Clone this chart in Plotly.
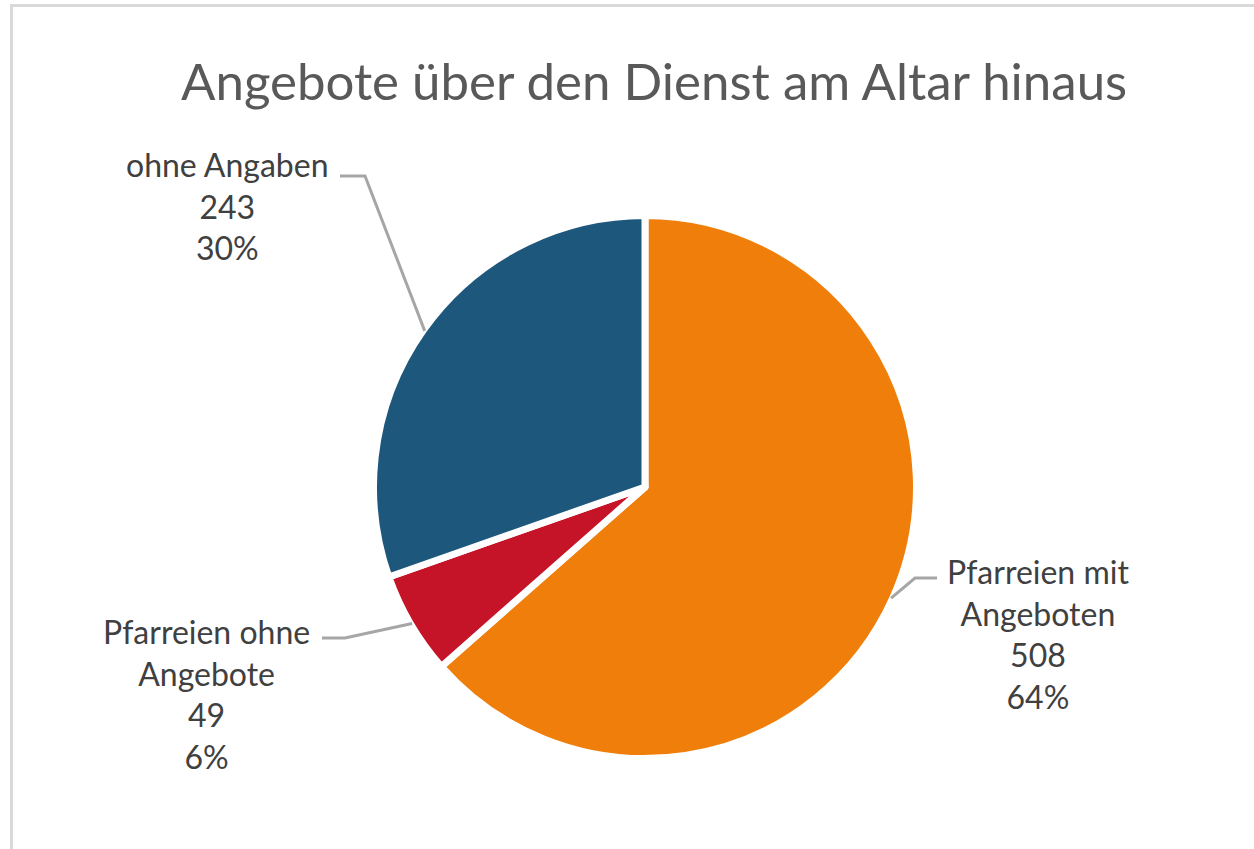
import math
import plotly.graph_objects as go

# ---- data ----
labels = ["Pfarreien mit Angeboten", "Pfarreien ohne Angebote", "ohne Angaben"]
label_lines = ["Pfarreien mit<br>Angeboten", "Pfarreien ohne<br>Angebote", "ohne Angaben"]
values = [508, 49, 243]
colors = ["#EF7F0A", "#C51428", "#1D587C"]
title_text = "Angebote über den Dienst am Altar hinaus"

# ---- layout constants (pixels) ----
W, H = 1254, 849
CX, CY, R = 645, 487, 268
BORDER = 7

def px(x):
    return x / W

def py(y):
    return 1 - y / H

Rd = R + BORDER / 2
fig = go.Figure(go.Pie(
    labels=labels, values=values, sort=False, direction="clockwise", rotation=0,
    marker=dict(colors=colors, line=dict(color="white", width=BORDER)),
    textinfo="none", hoverinfo="label+value+percent", showlegend=False,
    domain=dict(x=[px(CX - Rd), px(CX + Rd)], y=[py(CY + Rd), py(CY - Rd)]),
))

total = sum(values)
pcts = [round(v / total * 100) for v in values]

# label placement (pixels): center of text block, and leader bend/end points
label_pos = [(1038, 634), (206, 694), (227, 206)]
leader_end = [((937, 578), (915, 578)), ((322, 638), (345, 638)), ((340, 176), (365, 176))]

shapes = []
annotations = []
cum = 0
for i, v in enumerate(values):
    mid = (cum + v / 2) / total * 2 * math.pi
    cum += v
    ex = CX + (R + 2) * math.sin(mid)
    ey = CY - (R + 2) * math.cos(mid)
    (x0, y0), (x1, y1) = leader_end[i]
    path = f"M {px(x0)},{py(y0)} L {px(x1)},{py(y1)} L {px(ex)},{py(ey)}"
    shapes.append(dict(type="path", xref="paper", yref="paper", path=path,
                       line=dict(color="#A6A6A6", width=3)))
    lx, ly = label_pos[i]
    annotations.append(dict(
        x=px(lx), y=py(ly), xref="paper", yref="paper", xanchor="center", yanchor="middle",
        text=f"{label_lines[i]}<br>{values[i]}<br>{pcts[i]}%", showarrow=False, align="center",
        font=dict(family="Lato, Open Sans, sans-serif", size=32, color="#404040")))

annotations.append(dict(
    x=px(654), y=py(80), xref="paper", yref="paper", xanchor="center", yanchor="middle",
    text=title_text, showarrow=False,
    font=dict(family="Lato, Open Sans, sans-serif", size=51, color="#595959")))

# chart frame (left and top edges visible)
shapes.append(dict(type="line", xref="paper", yref="paper", x0=px(11.5), x1=px(11.5),
                   y0=py(5.5), y1=py(H + 10), line=dict(color="#D9D9D9", width=3)))
shapes.append(dict(type="line", xref="paper", yref="paper", x0=px(10), x1=px(W + 10),
                   y0=py(5.5), y1=py(5.5), line=dict(color="#D9D9D9", width=3)))

fig.update_layout(
    width=W, height=H, margin=dict(l=0, r=0, t=0, b=0),
    paper_bgcolor="white", plot_bgcolor="white",
    shapes=shapes, annotations=annotations,
)
fig.write_html("out.html", config={"displayModeBar": False},
               post_script="document.body.style.margin='0';")
